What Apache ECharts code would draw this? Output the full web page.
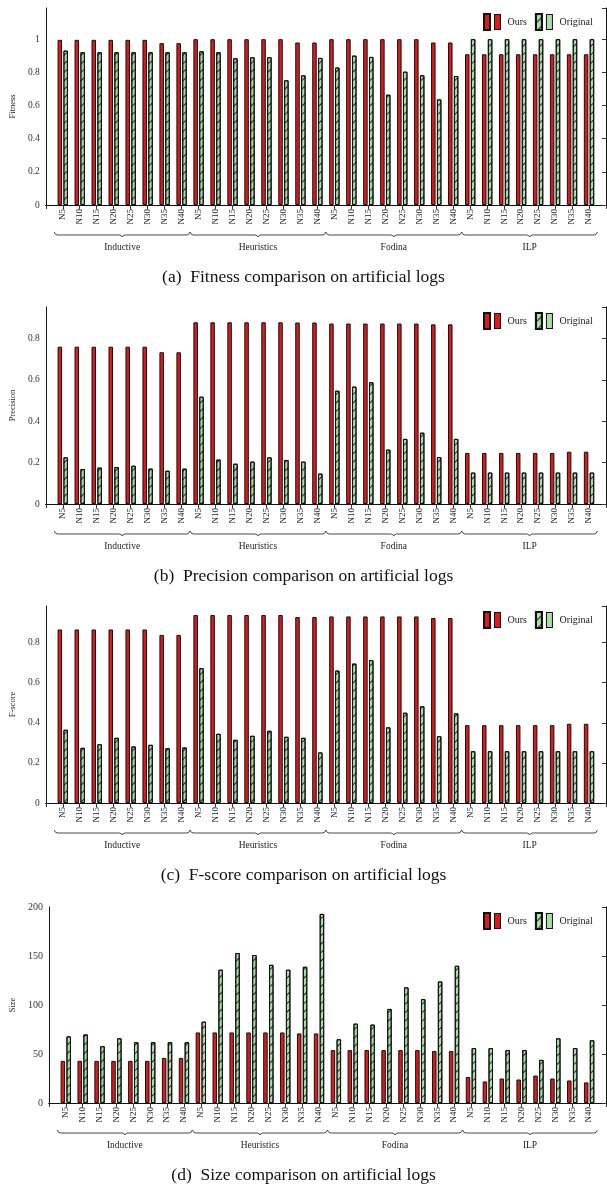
<!DOCTYPE html>
<html><head><meta charset="utf-8">
<script src="https://cdn.jsdelivr.net/npm/echarts@6/dist/echarts.min.js"></script>
<style>html,body{margin:0;padding:0;background:#fff}#c{width:607px;height:1186px}</style>
</head><body><div id="c"></div><script>
// ---------- data ----------
const nLabels = ['N5','N10','N15','N20','N25','N30','N35','N40'];
const groups = ['Inductive','Heuristics','Fodina','ILP'];
const seriesNames = ['Ours','Original'];

const fitnessOurs = [0.996,0.996,0.996,0.996,0.996,0.996,0.976,0.976, 1,1,1,1,1,1,0.98,0.98, 1,1,1,1,1,1,0.98,0.98, 0.909,0.909,0.909,0.909,0.909,0.909,0.909,0.909];
const fitnessOriginal = [0.931,0.921,0.921,0.921,0.921,0.921,0.921,0.921, 0.927,0.921,0.885,0.891,0.891,0.752,0.782,0.887, 0.829,0.901,0.893,0.665,0.804,0.782,0.637,0.778, 1,1,1,1,1,1,1,1];

const precisionOurs = [0.761,0.761,0.761,0.761,0.761,0.761,0.734,0.734, 0.879,0.879,0.879,0.879,0.879,0.879,0.878,0.878, 0.873,0.873,0.873,0.873,0.873,0.873,0.869,0.869, 0.247,0.247,0.247,0.247,0.247,0.247,0.253,0.253];
const precisionOriginal = [0.226,0.169,0.176,0.179,0.185,0.171,0.161,0.171, 0.519,0.215,0.195,0.205,0.226,0.213,0.205,0.147, 0.548,0.568,0.589,0.263,0.315,0.345,0.227,0.315, 0.152,0.152,0.152,0.152,0.152,0.152,0.152,0.152];

const fscoreOurs = [0.865,0.865,0.865,0.865,0.865,0.865,0.838,0.838, 0.937,0.937,0.937,0.937,0.937,0.937,0.927,0.927, 0.93,0.93,0.93,0.93,0.93,0.93,0.922,0.922, 0.388,0.388,0.388,0.388,0.388,0.388,0.395,0.395];
const fscoreOriginal = [0.365,0.275,0.293,0.325,0.282,0.29,0.273,0.277, 0.672,0.345,0.315,0.335,0.36,0.33,0.325,0.252, 0.66,0.695,0.712,0.377,0.45,0.482,0.333,0.447, 0.258,0.258,0.258,0.258,0.258,0.258,0.258,0.258];

const sizeOurs = [43,43,43,43,43,43,46,46, 72,72,72,72,72,72,71,71, 54,54,54,54,54,54,53,53, 26.5,22,25,24,28,25,23,21];
const sizeOriginal = [68,70,58,66,62,62,62,62, 83,136,153,151,141,136,139,193, 65,81,80,96,118,106,124,140, 56,56,54,54,44,66,56,64];

const yNames = ['Fitness','Precision','F-score','Size'];
const captions = ['(a)  Fitness comparison on artificial logs','(b)  Precision comparison on artificial logs','(c)  F-score comparison on artificial logs','(d)  Size comparison on artificial logs'];
const panelData = [[fitnessOurs,fitnessOriginal],[precisionOurs,precisionOriginal],[fscoreOurs,fscoreOriginal],[sizeOurs,sizeOriginal]];

// ---------- layout ----------
const FONT = 'Liberation Serif';
const RED = '#dc1a1c', GREEN = '#a9dea4';
const gridTop = [8, 307, 606, 907];
const gridH = [197, 197, 197, 196];
const gridLeft = [43, 43, 43, 46];
const yMax = [1.188, 0.953, 0.982, 200];
const yInterval = [0.2, 0.2, 0.2, 50];

// categories padded with one empty slot on each side
const cats = [''];
groups.forEach(() => nLabels.forEach(n => cats.push(n)));
cats.push('');
function pad(arr){ return [null].concat(arr, [null]); }
const groupRanges = groups.map((g, i) => [1 + i*8, 8 + i*8, 0]);

const grid = [], xAxis = [], yAxis = [], series = [], legend = [], title = [];
for (let p = 0; p < 4; p++) {
  grid.push({left: gridLeft[p], right: 1, top: gridTop[p], height: gridH[p]});
  xAxis.push({
    type: 'category', gridIndex: p, data: cats, boundaryGap: false, position: 'bottom',
    axisLine: {show: true, lineStyle: {color: '#111', width: 1}},
    axisTick: {show: false},
    axisLabel: {rotate: 90, interval: 0, margin: 4, fontFamily: FONT, fontSize: 9, color: '#222'}
  });
  xAxis.push({
    type: 'category', gridIndex: p, data: cats, boundaryGap: false, position: 'top',
    axisLine: {show: true, lineStyle: {color: '#111', width: 1}},
    axisTick: {show: true, inside: true, length: 4, interval: 0, lineStyle: {color: '#333'}},
    axisLabel: {show: false}
  });
  yAxis.push({
    type: 'value', gridIndex: p, min: 0, max: yMax[p], interval: yInterval[p],
    name: yNames[p], nameLocation: 'middle', nameGap: p === 3 ? 29 : 27,
    nameTextStyle: {fontFamily: FONT, fontSize: 8.5, color: '#222'},
    axisLine: {show: true, lineStyle: {color: '#111', width: 1}},
    axisTick: {show: false},
    splitLine: {show: false},
    axisLabel: {showMaxLabel: p === 3, margin: 6, fontFamily: FONT, fontSize: p === 3 ? 10 : 9.5, color: '#333'}
  });
  yAxis.push({
    type: 'value', gridIndex: p, min: 0, max: yMax[p], interval: yInterval[p], position: 'right',
    axisLine: {show: true, lineStyle: {color: '#111', width: 1}},
    axisTick: {show: true, inside: true, length: 4, lineStyle: {color: '#333'}},
    splitLine: {show: false}, axisLabel: {show: false}
  });
  series.push({
    name: seriesNames[0], type: 'bar', xAxisIndex: 2*p, yAxisIndex: 2*p,
    data: pad(panelData[p][0]), barWidth: 4.5, barGap: '30%',
    itemStyle: {color: RED, borderColor: '#111', borderWidth: 1},
    emphasis: {disabled: true}
  });
  series.push({
    name: seriesNames[1], type: 'bar', xAxisIndex: 2*p, yAxisIndex: 2*p,
    data: pad(panelData[p][1]), barWidth: 4.5, barGap: '30%',
    itemStyle: {color: GREEN, borderColor: '#111', borderWidth: 1,
      decal: {symbol: 'rect', symbolSize: 1, color: 'rgba(0,0,0,0.8)', dashArrayX: [1, 0], dashArrayY: [1, 5], rotation: -Math.PI/4}},
    emphasis: {disabled: true}
  });
  series.push({
    type: 'custom', xAxisIndex: 2*p, yAxisIndex: 2*p, clip: false, silent: true,
    data: groupRanges, encode: {x: [0, 1], y: 2},
    renderItem: function (params, api) {
      const a = api.coord([api.value(0), 0]);
      const b = api.coord([api.value(1), 0]);
      const bw = api.size([1, 0])[0];
      const x1 = a[0] - bw/2, x2 = b[0] + bw/2, y = a[1] + 30, m = (x1 + x2)/2;
      return {type: 'group', children: [
        {type: 'polyline', shape: {points: [[x1, y-3],[x1+1.5, y-0.5],[x1+4, y],[m-3, y],[m-1, y+0.5],[m, y+2],[m+1, y+0.5],[m+3, y],[x2-4, y],[x2-1.5, y-0.5],[x2, y-3]]},
          style: {stroke: '#333', lineWidth: 0.9, fill: null}},
        {type: 'text', style: {text: groups[params.dataIndex], x: m, y: y + 12, textAlign: 'center', textVerticalAlign: 'middle',
          font: '9.5px "' + FONT + '"', fill: '#222'}}
      ]};
    }
  });
  legend.push({
    data: seriesNames, left: 483, top: gridTop[p] + 5, orient: 'horizontal', padding: 0,
    icon: 'rect', itemWidth: 6, itemHeight: 16, itemGap: 8,
    selectedMode: false,
    textStyle: {fontFamily: FONT, fontSize: 10, color: '#222',
      rich: {
        r: {width: 5, height: 14, backgroundColor: RED, borderColor: '#111', borderWidth: 1},
        g: {width: 5, height: 14, backgroundColor: GREEN, borderColor: '#111', borderWidth: 1}
      }},
    formatter: function (name) { return name === 'Ours' ? '{r|}   Ours' : '{g|}   Original'; }
  });
  title.push({
    text: captions[p], left: 'center', top: gridTop[p] + gridH[p] + 73 - 10, padding: 0,
    textStyle: {fontFamily: FONT, fontSize: 17.5, fontWeight: 'normal', color: '#111'}
  });
}

const chart = echarts.init(document.getElementById('c'), null, {renderer: 'canvas'});
chart.setOption({animation: false, backgroundColor: '#fff', grid, xAxis, yAxis, series, legend, title});
</script></body></html>
